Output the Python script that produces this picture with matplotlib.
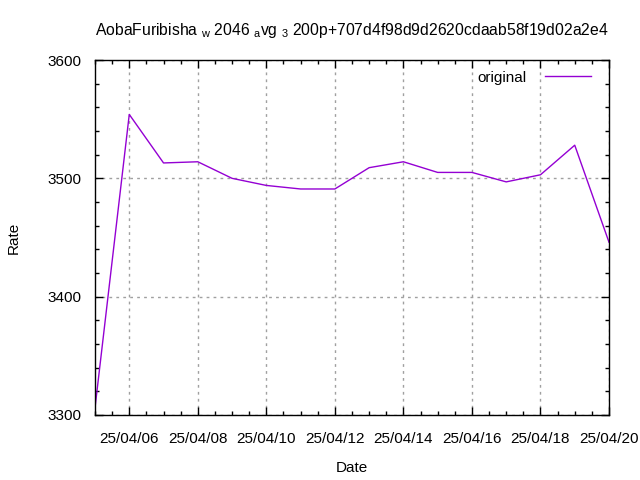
import matplotlib
matplotlib.use("Agg")
import matplotlib.pyplot as plt
import matplotlib.dates as mdates
import numpy as np
import datetime as dt

dates = ["2025-04-05", "2025-04-06", "2025-04-07", "2025-04-08", "2025-04-09",
         "2025-04-10", "2025-04-11", "2025-04-12", "2025-04-13", "2025-04-14",
         "2025-04-15", "2025-04-16", "2025-04-17", "2025-04-18", "2025-04-19",
         "2025-04-20"]
rates = [3306, 3554, 3513, 3514, 3500, 3494, 3491, 3491, 3509, 3514,
         3505, 3505, 3497, 3503, 3528, 3446]
series_label = "original"
title_text = (r"AobaFuribisha $_{\mathrm{w}}$ 2046 $_{\mathrm{a}}$vg $_{\mathrm{3}}$ "
              r"200p+707d4f98d9d2620cdaab58f19d02a2e4")

plt.rcParams['font.family'] = ['Liberation Sans', 'DejaVu Sans']
plt.rcParams['mathtext.fontset'] = 'custom'
plt.rcParams['mathtext.rm'] = 'Liberation Sans'
plt.rcParams['mathtext.it'] = 'Liberation Sans'

x = [dt.datetime.strptime(d, "%Y-%m-%d") for d in dates]

fig = plt.figure(figsize=(6.4, 4.8), dpi=100)
ax = fig.add_axes([95/640, 1-415/480, (609-95)/640, (415-60)/480])
ax.plot(x, rates, color="#9400D3", lw=1.0, label=series_label)

ax.set_xlim(x[0], x[-1])
ax.set_ylim(3300, 3600)
ax.xaxis.set_major_locator(mdates.DayLocator(bymonthday=range(6, 32, 2)))
ax.xaxis.set_minor_locator(mdates.HourLocator(byhour=[0, 12]))
ax.xaxis.set_major_formatter(mdates.DateFormatter("%y/%m/%d"))
ax.set_yticks([3300, 3400, 3500, 3600])
ax.set_yticks(np.arange(3300, 3601, 20), minor=True)

ax.tick_params(which='both', direction='in', top=True, right=True, labelsize=11, colors='black')
ax.tick_params(axis='y', which='major', length=6, width=1, pad=10)
ax.tick_params(axis='x', which='major', length=6, width=1, pad=12)
ax.tick_params(which='minor', length=3, width=1)
for s in ax.spines.values():
    s.set_linewidth(1.0)

ax.grid(True, which='major', color='#a0a0a0', linestyle=(0, (2, 3)), linewidth=1.0)

ax.set_xlabel("Date", fontsize=11, labelpad=11)
ax.set_ylabel("Rate", fontsize=11, labelpad=19)
fig.text(352/640, 1-30/480, title_text, ha='center', va='center', fontsize=11.3)

leg = ax.legend(loc='upper right', frameon=False, markerfirst=False, fontsize=11,
                handlelength=3.0, handletextpad=1.2, borderaxespad=0.3,
                bbox_to_anchor=(0.985, 1.0))

fig.savefig("out.png", dpi=100)
